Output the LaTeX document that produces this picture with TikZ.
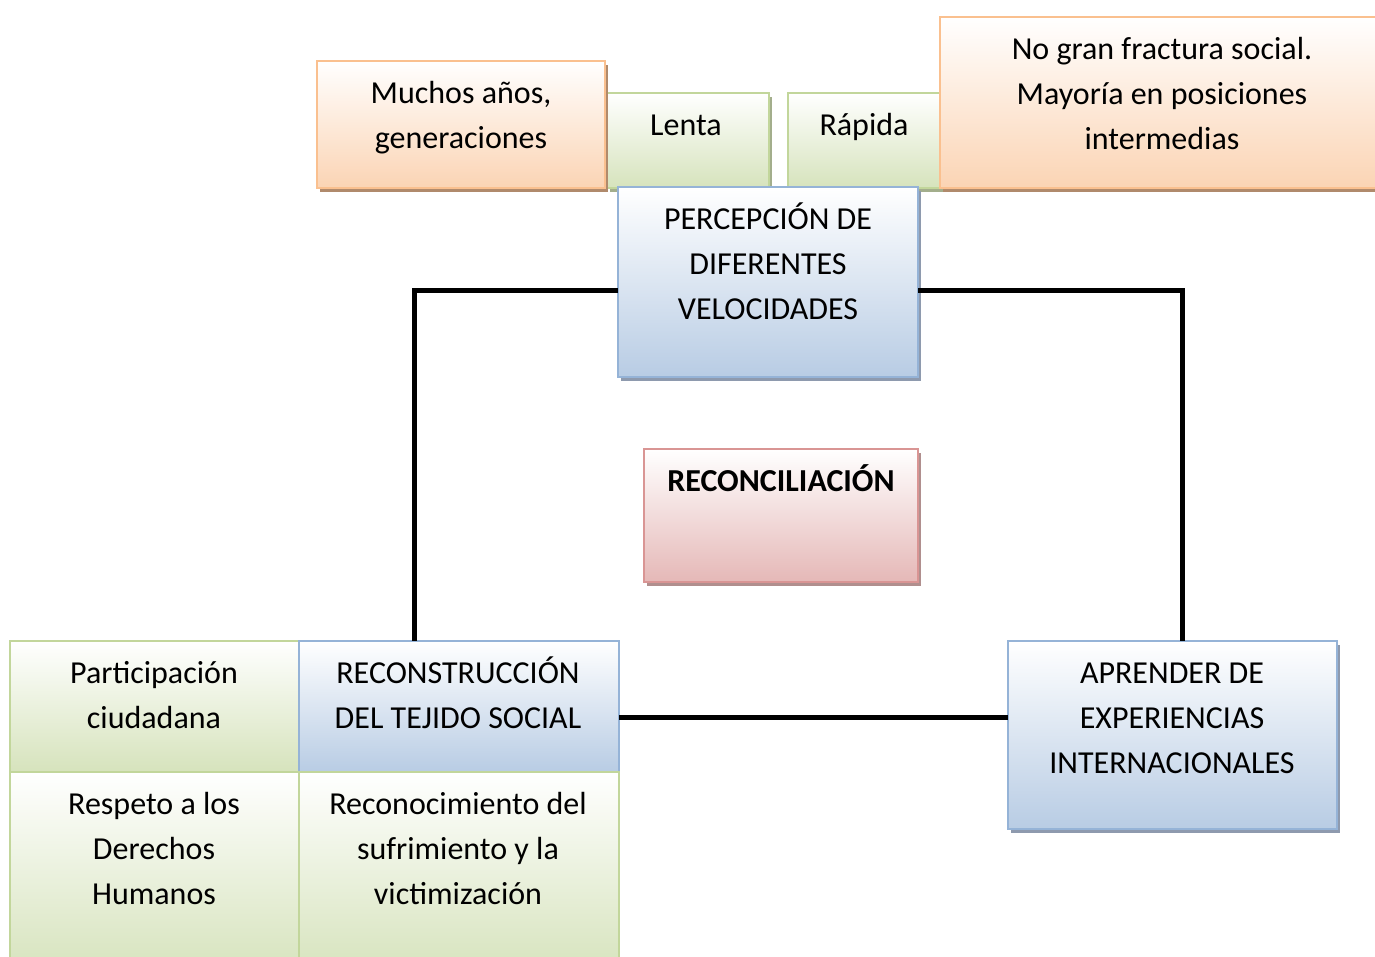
\documentclass[tikz,border=0pt]{standalone}
\usepackage{fontspec}
\setmainfont{Carlito}
\definecolor{oBd}{HTML}{FAC08F}
\definecolor{oFl}{HTML}{FBD4B4}
\definecolor{oSh}{HTML}{B08A6C}
\definecolor{gBd}{HTML}{C2D69B}
\definecolor{gFl}{HTML}{D6E3BC}
\definecolor{gSh}{HTML}{A3AE8C}
\definecolor{bBd}{HTML}{95B3D7}
\definecolor{bFl}{HTML}{B8CCE4}
\definecolor{bSh}{HTML}{8E9AAE}
\definecolor{rBd}{HTML}{D99594}
\definecolor{rFl}{HTML}{E5B8B7}
\definecolor{rSh}{HTML}{B08F8E}
\tikzset{
  box/.style={line width=2.5pt, inner sep=0pt, outer sep=0pt, anchor=north west, shading=axis, shading angle=0},
  ob/.style={box, draw=oBd, top color=white, bottom color=oFl},
  gb/.style={box, draw=gBd, top color=white, bottom color=gFl},
  bb/.style={box, draw=bBd, top color=white, bottom color=bFl},
  rb/.style={box, draw=rBd, top color=white, bottom color=rFl},
  obsh/.style={fill=oSh}, gbsh/.style={fill=gSh}, bbsh/.style={fill=bSh}, rbsh/.style={fill=rSh},
  txt/.style={anchor=base, inner sep=0pt, outer sep=0pt},
  conn/.style={line width=5pt, black},
}
% name, style, x1, y1, x2, y2
\newcommand{\mkbox}[6]{%
  \fill[#2sh] (#3+3,#4+4) rectangle (#5+3,#6+4);
  \node[#2, minimum width=#5-#3, minimum height=#6-#4] (#1) at (#3,#4) {};}
\newcommand{\mkboxns}[6]{%
  \node[#2, minimum width=#5-#3, minimum height=#6-#4] (#1) at (#3,#4) {};}
% name, x, y(baseline of first line), text
\newcommand{\mktxt}[4]{%
  \node[txt] (#1) at (#2,#3) {\parbox[t]{520pt}{\centering\fontsize{32}{45}\selectfont #4}};}
\begin{document}
\begin{tikzpicture}[x=1pt, y=-1pt]
\useasboundingbox (0,0) rectangle (1375,956);
\fill[white] (0,0) rectangle (1375,956);
% top row
\mkbox{lenta}{gb}{607}{93}{769}{188}
\mkbox{rapida}{gb}{788}{93}{942}{188}
\mkbox{muchos}{ob}{317}{61}{605}{188}
\mkbox{nogran}{ob}{940}{17}{1385}{188}
\mkbox{perc}{bb}{618}{187}{918}{377}
\mkbox{recon}{rb}{644}{449}{918}{582}
\mkbox{apr}{bb}{1008}{641}{1337}{829}
% bottom grid
\mkboxns{part}{gb}{10}{641}{299}{772}
\mkboxns{reco}{bb}{299}{641}{619}{772}
\mkboxns{resp}{gb}{10}{772}{299}{975}
\mkboxns{rcon}{gb}{299}{772}{619}{975}
% connectors
\draw[conn] ([yshift=-8pt]perc.west) -| ([xshift=-45pt]reco.north);
\draw[conn] ([yshift=-8pt]perc.east) -| ([xshift=10pt]apr.north);
\draw[conn] ([yshift=-11pt]reco.east) -- ([yshift=-11pt]reco.east -| apr.west);
% texts
\mktxt{tmuchos}{461}{103}{Muchos años,\\generaciones}
\mktxt{tlenta}{686}{135}{Lenta}
\mktxt{trapida}{864}{135}{Rápida}
\mktxt{tnogran}{1162}{59}{No gran fractura social.\\Mayoría en posiciones\\intermedias}
\mktxt{tperc}{768}{229}{PERCEPCIÓN DE\\DIFERENTES\\VELOCIDADES}
\mktxt{trecon}{781}{491}{\textbf{RECONCILIACIÓN}}
\mktxt{tpart}{154}{683}{Participación\\ciudadana}
\mktxt{treco}{458}{683}{RECONSTRUCCIÓN\\DEL TEJIDO SOCIAL}
\mktxt{tresp}{154}{814}{Respeto a los\\Derechos\\Humanos}
\mktxt{trcon}{458}{814}{Reconocimiento del\\sufrimiento y la\\victimización}
\mktxt{tapr}{1172}{683}{APRENDER DE\\EXPERIENCIAS\\INTERNACIONALES}
\end{tikzpicture}
\end{document}
